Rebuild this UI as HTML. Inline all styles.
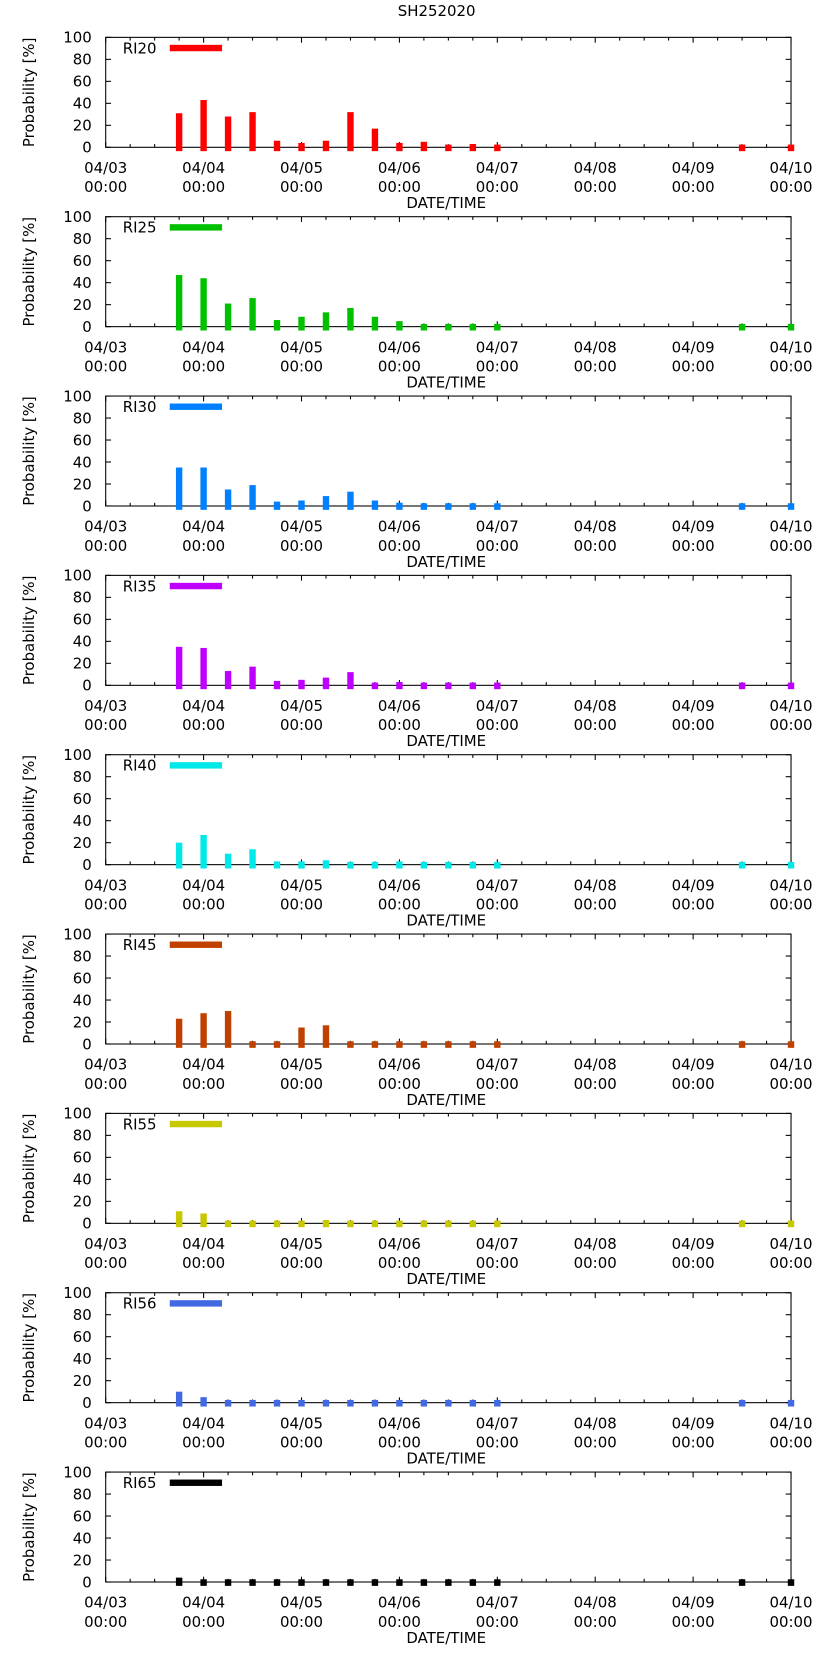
<!DOCTYPE html>
<html><head><meta charset="utf-8">
<style>
html,body{margin:0;padding:0;background:#fff;}
svg{display:block;font-family:"DejaVu Sans","Liberation Sans",sans-serif;}
</style></head>
<body>
<svg id="chart" width="822" height="1653" viewBox="0 0 770 1548.5" xmlns="http://www.w3.org/2000/svg">
<text x="409" y="15" font-size="14" text-anchor="middle">SH252020</text>
</svg>
<script>
// Data
const seriesNames = ["RI20","RI25","RI30","RI35","RI40","RI45","RI55","RI56","RI65"];
const seriesColors = ["#ff0000","#00c000","#0080ff","#c000ff","#00e8e8","#c04000","#c8c800","#4169e1","#000000"];
// times in hours since 04/03 00:00
const times = [18,24,30,36,42,48,54,60,66,72,78,84,90,96,156,168];
const ri20 = [31,43,28,32,6,4,6,32,17,4,5,2,3,2,2,2];
const ri25 = [47,44,21,26,6,9,13,17,9,5,2,2,2,2,2,2];
const ri30 = [35,35,15,19,4,5,9,13,5,3,2,2,2,2,2,2];
const ri35 = [35,34,13,17,4,5,7,12,2,3,2,2,2,2,2,2];
const ri40 = [20,27,10,14,3,3,4,2,2,3,2,2,2,2,2,2];
const ri45 = [23,28,30,2,2,15,17,2,2,2,2,2,2,2,2,2];
const ri55 = [11,9,2,2,2,2,3,2,2,2,2,2,2,2,2,2];
const ri56 = [10,5,2,2,2,2,2,2,2,2,2,2,2,2,2,2];
const ri65 = [4,1,1,1,1,1,1,1,1,1,1,1,1,1,1,1];
const allSeries = [ri20,ri25,ri30,ri35,ri40,ri45,ri55,ri56,ri65];
const xTickLabels = ["04/03","04/04","04/05","04/06","04/07","04/08","04/09","04/10"];
const yTicks = [0,20,40,60,80,100];

const NS = "http://www.w3.org/2000/svg";
const svg = document.getElementById("chart");
const L = 99, R = 741, H = 103, panelStep = 168, firstTop = 35;
const xScale = h => L + (R - L) * h / 168;
function mk(tag, attrs, parent){
  const e = document.createElementNS(NS, tag);
  for (const k in attrs) e.setAttribute(k, attrs[k]);
  (parent || svg).appendChild(e);
  return e;
}
allSeries.forEach((vals, p) => {
  const top = firstTop + p * panelStep;
  const bot = top + H;
  const yScale = v => bot - H * v / 100;
  const g = mk("g", {});
  
  
  // frame
  const fr = mk("rect", {x:L, y:top, width:R-L, height:H, fill:"none", stroke:"#000", "stroke-width":1}, g);
  
  
  // y ticks
  yTicks.forEach(t => {
    const y = yScale(t);
    mk("line", {x1:L, x2:L+5, y1:y, y2:y, stroke:"#000"}, g);
    mk("line", {x1:R-5, x2:R, y1:y, y2:y, stroke:"#000"}, g);
    const tx = mk("text", {x:86, y:y+5, "font-size":14, "text-anchor":"end"}, g);
    tx.textContent = t;
    
    
  });
  // x ticks
  for (let h = 0; h <= 168; h += 6) {
    const x = xScale(h);
    const len = (h % 24 === 0) ? 5 : 3;
    mk("line", {x1:x, x2:x, y1:bot, y2:bot-len, stroke:"#000"}, g);
    mk("line", {x1:x, x2:x, y1:top, y2:top+len, stroke:"#000"}, g);
  }
  xTickLabels.forEach((lab, i) => {
    const x = xScale(i * 24);
    const t1 = mk("text", {x:x, y:bot+24, "font-size":14, "text-anchor":"middle"}, g);
    t1.textContent = lab;
    
    
    const t2 = mk("text", {x:x, y:bot+42, "font-size":14, "text-anchor":"middle"}, g);
    t2.textContent = "00:00";
    
    
  });
  const xt = mk("text", {x:418, y:bot+57, "font-size":14, "text-anchor":"middle"}, g);
  xt.textContent = "DATE/TIME";
  
  
  const yt = mk("text", {x:0, y:0, "font-size":14, "text-anchor":"middle", transform:"translate(32," + (top+H/2) + ") rotate(-90)"}, g);
  yt.textContent = "Probability [%]";
  
  
  // bars
  vals.forEach((v, i) => {
    const x = xScale(times[i]);
    const y1 = yScale(Math.max(v, 2.5));
    const y0 = yScale(-3.5);
    const b = mk("rect", {x:x-3, y:y1, width:6, height:y0-y1, fill:seriesColors[p]}, g);
    
    
  });
  // legend
  const lt = mk("text", {x:115, y:top+15, "font-size":14}, g);
  lt.textContent = seriesNames[p];
  
  
  const ll = mk("rect", {x:159, y:top+7, width:49, height:6, fill:seriesColors[p]}, g);
  
  
});
</script>
</body></html>
